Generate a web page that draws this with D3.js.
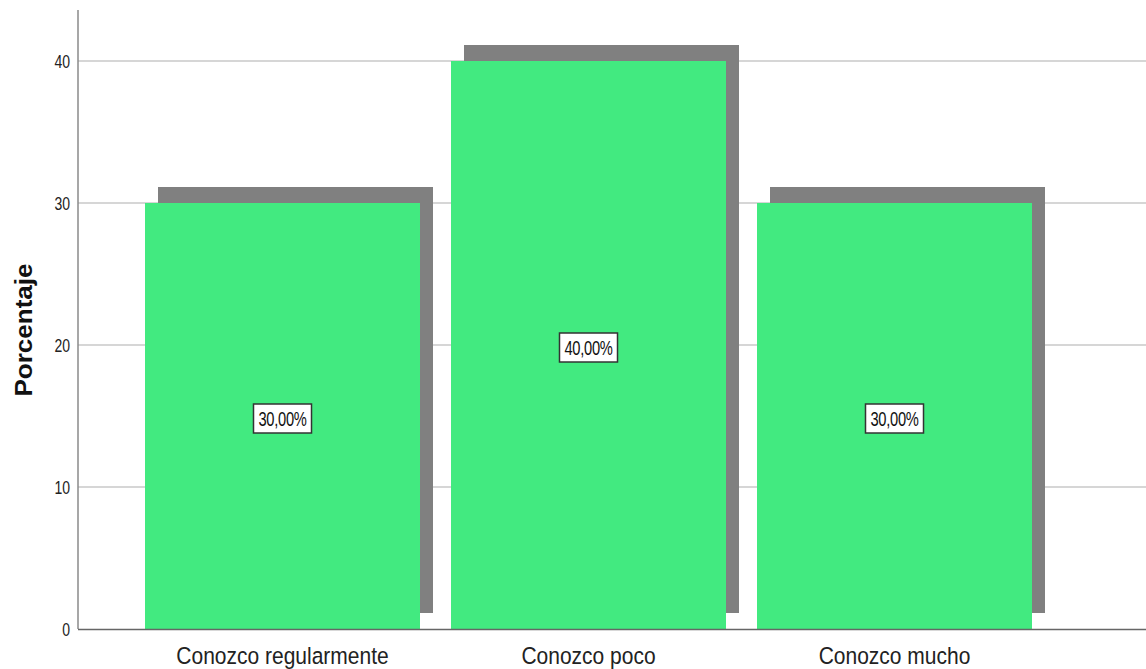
<!DOCTYPE html>
<html><head><meta charset="utf-8">
<script src="https://cdn.jsdelivr.net/npm/d3@7"></script>
<style>body{margin:0;background:#fff}svg{display:block}text{font-family:"Liberation Sans",Arial,sans-serif}</style>
</head><body><svg id="c" width="1146" height="669"></svg>
<script>
const categories = ["Conozco regularmente", "Conozco poco", "Conozco mucho"];
const percentages = [30, 40, 30];
const valueLabels = ["30,00%", "40,00%", "30,00%"];
const yTicks = [0, 10, 20, 30, 40];

(function () {
const svg = d3.select("#c");
const mLeft = 78, mRight = 1146, mTop = 10, mBottom = 629;
const y = d3.scaleLinear().domain([0, 40]).range([mBottom, 61]);
const p = 31/306;
const x = d3.scaleBand().domain(categories).range([129.5, 1047.5]).paddingInner(p).paddingOuter(p/2);

// gridlines
svg.append("g").selectAll("line").data(yTicks.filter(d => d > 0)).join("line")
  .attr("x1", mLeft).attr("x2", mRight).attr("y1", d => y(d)).attr("y2", d => y(d))
  .attr("stroke", "#c8c8c8").attr("stroke-width", 1.5);

// shadows
const dx = 13, dy = -16;
svg.append("g").selectAll("rect").data(percentages).join("rect")
  .attr("x", (d, i) => x(categories[i]) + dx).attr("y", d => y(d) + dy)
  .attr("width", x.bandwidth()).attr("height", d => mBottom - y(d))
  .attr("fill", "#808080");

// bars
svg.append("g").selectAll("rect").data(percentages).join("rect")
  .attr("x", (d, i) => x(categories[i])).attr("y", d => y(d))
  .attr("width", x.bandwidth()).attr("height", d => mBottom - y(d))
  .attr("fill", "#42ea80");

// axes lines
svg.append("line").attr("x1", mLeft).attr("x2", mLeft).attr("y1", mTop).attr("y2", mBottom)
  .attr("stroke", "#8a8a8a").attr("stroke-width", 1.5);
svg.append("line").attr("x1", mLeft).attr("x2", mRight).attr("y1", mBottom + 0.5).attr("y2", mBottom + 0.5)
  .attr("stroke", "#666").attr("stroke-width", 1.5);

// y tick labels
svg.append("g").selectAll("text").data(yTicks).join("text")
  .attr("transform", d => `translate(70,${y(d) + 6.5}) scale(1,1.3)`)
  .attr("text-anchor", "end")
  .attr("font-size", 14).attr("fill", "#222").text(d => d);

// x labels
svg.append("g").selectAll("text").data(categories).join("text")
  .attr("transform", d => `translate(${x(d) + x.bandwidth()/2},664) scale(1,1.17)`)
  .attr("text-anchor", "middle")
  .attr("font-size", 21).attr("fill", "#222").text(d => d);

// y title
svg.append("text").attr("transform", "translate(32,330) rotate(-90)")
  .attr("text-anchor", "middle").attr("font-size", 23).attr("font-weight", "bold")
  .attr("textLength", 133).attr("lengthAdjust", "spacingAndGlyphs")
  .attr("fill", "#111").text("Porcentaje");

// value labels
const lg = svg.append("g").selectAll("g").data(percentages).join("g")
  .attr("transform", (d, i) => `translate(${x(categories[i]) + x.bandwidth()/2},${y(d/2) + 2.5})`);
lg.append("rect").attr("x", -29).attr("y", -14.5).attr("width", 58).attr("height", 29)
  .attr("fill", "#fff").attr("stroke", "#333").attr("stroke-width", 1.5);
lg.append("text").attr("text-anchor", "middle")
  .attr("transform", "translate(0,7) scale(1,1.33)")
  .attr("font-size", 14.7).attr("letter-spacing", -0.3)
  .attr("fill", "#111").text((d, i) => valueLabels[i]);
})();
</script></body></html>
